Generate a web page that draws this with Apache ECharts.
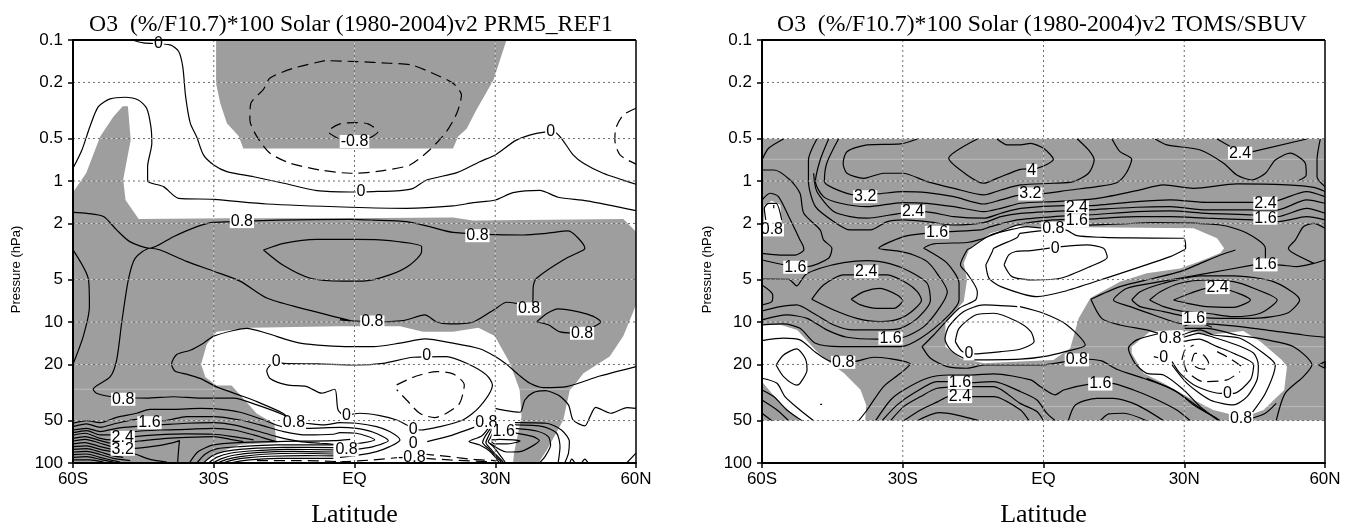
<!DOCTYPE html>
<html><head><meta charset="utf-8">
<script src="https://cdn.jsdelivr.net/npm/echarts@6/dist/echarts.min.js"></script>
<style>html,body{margin:0;padding:0;background:#fff}#c{width:1352px;height:525px}</style>
</head><body><div id="c"></div>
<script>
// All points are [latitude in degrees, log10(pressure in hPa)]
const pressureTicks = [0.1,0.2,0.5,1,2,5,10,20,50,100];
const latTicks = [-60,-30,0,30,60];
const latNames = {'-60':'60S','-30':'30S','0':'EQ','30':'30N','60':'60N'};
const titles = ['O3  (%/F10.7)*100 Solar (1980-2004)v2 PRM5_REF1','O3  (%/F10.7)*100 Solar (1980-2004)v2 TOMS/SBUV'];

const leftShade = [
 [[-29.5,-1],[-29.5,-.69],[-28.6,-.55],[-27.2,-.41],[-24.7,-.32],[-23.7,-.23],[21,-.23],[22.1,-.315],[23.9,-.37],[26,-.505],[29.6,-.715],[32.4,-1]],
 [[-60,.08],[-57.2,-.055],[-54.2,-.315],[-51.4,-.455],[-49.4,-.53],[-48.3,-.53],[-47.7,-.29],[-49.3,-.01],[-48.8,.135],[-46,.27],[-26.5,.265],[-3,.265],[21,.258],[25.2,.28],[57.3,.27],[60,.36],[60,.88],[57.3,1.1],[54.4,1.245],[48.8,1.364],[46.6,1.458],[45.9,1.48],[44.5,1.695],[41,1.907],[39.2,2],[33.8,2],[34,1.93],[35.6,1.67],[35.2,1.48],[33.1,1.29],[29.9,1.1],[26.4,1.04],[21,1.07],[14.6,1.07],[9.7,1.03],[-3.1,1.03],[-22.3,1.04],[-29.4,1.07],[-31.5,1.16],[-32.7,1.3],[-31.8,1.39],[-29.4,1.45],[-26.2,1.45],[-20.8,1.65],[-17.1,1.72],[-16.6,1.855],[-24.4,1.87],[-29.4,1.93],[-32.3,2],[-60,2]]
];
const leftDashed = [
 [[-6.3,-.854],[-13,-.8],[-18,-.73],[-19.4,-.65],[-22.1,-.55],[-22.3,-.433],[-20.8,-.315],[-18,-.197],[-13.7,-.126],[-7.3,-.078],[-.9,-.055],[.4,-.055],[6.1,-.074],[11.8,-.114],[16,-.22],[19.6,-.35],[21.8,-.48],[22.8,-.61],[21,-.693],[17.5,-.752],[12.2,-.823],[7.5,-.835],[.4,-.847],[-6.3,-.854]],
 [[-3.4,-.3],[-5.6,-.35],[-3.1,-.405],[.4,-.414],[2.9,-.405],[5,-.35],[3,-.3]],
 [[60,-.516],[57.3,-.468],[55.7,-.374],[55.5,-.29],[56.6,-.185],[60,-.12]],
 [[9,1.446],[13.2,1.383],[17.5,1.352],[21,1.368],[23.4,1.446],[22.4,1.577],[19.6,1.647],[17.1,1.678],[13.9,1.647],[11.1,1.553],[9,1.48]],
 [[-20.8,1.983],[-11.6,1.983],[-.9,1.993]],
 [[-3.1,1.993],[4,1.978],[9.7,1.96]],
 [[14.6,1.936],[20.3,1.955],[25.3,1.974],[30.3,1.983]],
 [[15,1.967],[20.3,1.978],[29.6,1.993]]
];
const leftSolid = [
 [[-47.5,-1],[-45,-.98],[-39.3,-.965],[-37.5,-.92],[-36.6,-.81],[-36,-.6],[-35,-.41],[-33.6,-.31],[-32.2,-.185],[-30,-.114],[-27.2,-.067],[-21.5,-.03],[-15.1,.016],[-8,.068],[-.9,.078],[4,.075],[9.7,.068],[12.5,.052],[15.4,-.007],[21.8,-.059],[26.7,-.137],[30,-.185],[34.5,-.29],[38.8,-.338],[42.4,-.35],[44.1,-.303],[46.6,-.185],[48.8,-.126],[53,-.055],[60,.023]],
 [[-60,-.09],[-58.1,-.22],[-56.4,-.385],[-54.6,-.527],[-52.1,-.582],[-48.9,-.594],[-46.1,-.575],[-44.3,-.516],[-43.4,-.386],[-43.2,-.267],[-44.1,-.102],[-44.1,0],[-40.7,.04],[-37.5,.123],[-30,.13],[-18.7,.163],[-.9,.186],[11.1,.194],[21,.177],[25.3,.154],[30,.135],[33.8,.083],[39.5,.066],[43.4,.115],[49.5,.141],[60,.21]],
 [[-60,.222],[-57,.229],[-53.5,.252],[-50.7,.347],[-47.9,.43],[-43.6,.477],[-38.6,.395],[-33.6,.324],[-30,.293],[-.9,.272],[4,.277],[11.1,.288],[16,.324],[21,.364],[36,.383],[40.9,.371],[45.6,.354],[47.7,.406],[49.1,.477],[48.8,.489],[44.5,.56],[38.8,.69],[38.1,.75],[38,.86],[37.2,.88],[32.4,.86],[30.3,.9],[25.3,1],[20.3,1.014],[17.5,1],[15,.95],[10.4,.99],[3.8,1],[-3.1,.985],[-.9,.99],[-11.6,.9],[-18.7,.83],[-24.4,.71],[-30,.64],[-35.8,.57],[-41.4,.489],[-43.6,.477],[-46.8,.55],[-48.2,.7],[-49.6,1],[-50.7,1.27],[-52.1,1.39],[-55.7,1.477],[-55,1.505],[-51.4,1.53],[-44.3,1.54],[-38.6,1.53],[-32.9,1.54],[-25.8,1.54],[-20.8,1.588],[-15.1,1.66],[-12.9,1.714]],
 [[-60,.489],[-56.7,.7],[-56.5,.89],[-57.8,1.1],[-60,1.3]],
 [[-19.4,.489],[-15.1,.6],[-9.4,.69],[-2.4,.71],[1.8,.71],[7.5,.666],[11.8,.595],[14.3,.5],[14.3,.465],[7.5,.423],[.4,.414],[-8,.414],[-15.1,.442],[-19.4,.489]],
 [[38.8,1],[41,.94],[43.4,.907],[48,.93],[50.9,.96],[52.5,1],[50,1.05],[48.5,1.08],[43.8,1.07],[41.3,1.02],[38.8,1]],
 [[60,1.316],[52.3,1.383],[45.2,1.458],[40.2,1.465],[37.4,1.435],[35,1.375],[32.4,1.3],[30,1.245],[26.7,1.19],[21,1.15],[15,1.12],[9.7,1.15],[4,1.175],[-.9,1.175],[-11.6,1.15],[-18.7,1.08],[-23,1.045],[-25.8,1.06],[-30,1.1],[-32.2,1.15],[-35,1.2],[-37.9,1.23],[-39,1.3],[-38.2,1.35],[-35.8,1.37],[-32.9,1.4],[-29.4,1.46],[-24.4,1.52],[-20.8,1.565],[-15.1,1.65],[-12.9,1.714],[-10.5,1.718],[-6.6,1.73],[-3.1,1.714],[.4,1.718],[4.7,1.742],[7.5,1.777],[9.7,1.836],[7.5,1.884],[4.7,1.919],[1.1,1.943],[-3.1,1.96]],
 [[-1.7,1.664],[-1.6,1.683],[-3.5,1.624],[-4.2,1.477],[-7,1.505],[-10.2,1.458],[-14.4,1.446],[-18,1.4],[-18.7,1.345],[-16.7,1.28],[-15.1,1.293],[-8,1.297],[.4,1.305],[6.1,1.293],[12.5,1.25],[19.6,1.245],[23.9,1.293],[28.1,1.375],[29.4,1.446],[26.7,1.6],[23.1,1.695],[18.2,1.742],[13.9,1.766],[9,1.695],[5.4,1.664],[1.1,1.647],[-1.7,1.664]],
 [[15.5,1.848],[20.3,1.808],[26.4,1.735]],
 [[-60,1.718],[-57.1,1.7],[-54.2,1.714],[-50.7,1.676],[-46.4,1.647],[-43.6,1.619],[-38.6,1.619],[-32.9,1.612],[-30,1.614],[-24.4,1.64],[-19.4,1.695],[-15.5,1.742],[-10.2,1.754],[-3.1,1.747],[.4,1.754],[4,1.782],[7.2,1.841],[4,1.884],[.4,1.903],[-3.1,1.919]],
 [[-60,1.742],[-57.1,1.723],[-54.2,1.747],[-50.7,1.718],[-46.4,1.69],[-40.7,1.7],[-35.8,1.671],[-30,1.671],[-24.4,1.695],[-20.1,1.73],[-15.1,1.777],[-10.2,1.801],[-4.5,1.796],[-3.1,1.785],[.4,1.789],[4.3,1.836],[1.1,1.86],[-1.7,1.872]],
 [[-60,1.766],[-57.1,1.754],[-54.2,1.777],[-50.7,1.754],[-47.1,1.742],[-41.4,1.73],[-35.8,1.718],[-30,1.714],[-25.8,1.73],[-21.5,1.766],[-16.6,1.813],[-11.6,1.848],[-7.3,1.86],[-4.5,1.867]],
 [[-60,1.785],[-57.1,1.77],[-54.2,1.801],[-51.4,1.801],[-47.1,1.777],[-41.4,1.766],[-35.8,1.761],[-30,1.754],[-25.8,1.766],[-21.5,1.801],[-18,1.836],[-16.6,1.848]],
 [[-60,1.803],[-57.4,1.789],[-54.2,1.825],[-51.7,1.836],[-46.8,1.813],[-42.2,1.801],[-35.8,1.794],[-30,1.796],[-25.8,1.813],[-21.5,1.836]],
 [[-60,1.825],[-57.4,1.813],[-54.2,1.841],[-51.7,1.86],[-46.8,1.848],[-45,1.841],[-40,1.825],[-35.8,1.818],[-30,1.813],[-26.5,1.832],[-23.7,1.848]],
 [[-60,1.844],[-57.4,1.832],[-54.2,1.86],[-51.7,1.884],[-46.8,1.896],[-42.2,1.879],[-38.6,1.855],[-37.3,1.841],[-37.5,1.907],[-37.7,2]],
 [[-60,1.865],[-57.4,1.855],[-54.2,1.884],[-51.7,1.903],[-46.8,1.936],[-44.3,1.967],[-42.2,1.983],[-40,1.993]],
 [[-60,1.884],[-57.1,1.879],[-54.2,1.903],[-51.7,1.919]],
 [[-60,1.903],[-57.1,1.898],[-54.2,1.922],[-51.4,1.95],[-49.3,1.96]],
 [[-60,1.922],[-57.1,1.917],[-54.2,1.94],[-51.4,1.967],[-47.8,1.983]],
 [[-60,1.94],[-57.1,1.936],[-54.2,1.96],[-51.4,1.983],[-50,1.993]],
 [[-60,1.96],[-57.1,1.955],[-54.2,1.974],[-51.4,1.993]],
 [[-60,1.978],[-56.4,1.978],[-53.5,1.993]],
 [[-35.2,2],[-33.3,1.919],[-30.1,1.872],[-24.4,1.855],[-16.6,1.848],[-4.5,1.841],[-.9,1.832]],
 [[-33.6,2],[-31.8,1.936],[-29.4,1.9],[-24.4,1.884],[-16.6,1.872],[-4.5,1.872]],
 [[-32.2,2],[-30.4,1.95],[-27.9,1.919],[-23,1.9],[-15.1,1.889],[-4.5,1.891]],
 [[-31.1,2],[-29.4,1.96],[-26.5,1.931],[-22.3,1.915],[-14.4,1.903],[-4.5,1.907]],
 [[-30.2,2],[-28.3,1.969],[-25.8,1.945],[-20.8,1.926],[-13,1.917],[-4.5,1.922]],
 [[-29.2,2],[-27.2,1.974],[-24.4,1.955],[-19.4,1.938],[-11.6,1.931],[-4.5,1.936]],
 [[-28.1,2],[-25.8,1.978],[-23,1.964],[-18,1.952],[-10.2,1.948],[-4.5,1.95]],
 [[-26.5,2],[-23.7,1.983],[-20.8,1.974],[-15.9,1.967],[-4.5,1.967]],
 [[28.5,1.754],[27.1,1.808],[24.4,1.848],[26.7,1.872],[28.9,1.919],[30.8,1.993]],
 [[29,1.754],[27.8,1.813],[27.3,1.855],[28.5,1.896],[31.3,1.993]],
 [[29.4,1.754],[28.5,1.813],[28,1.855],[29.2,1.907],[31.7,1.993]],
 [[29.7,1.766],[28.9,1.825],[28.5,1.848],[29.6,1.884],[32.1,1.993]],
 [[29.2,1.836],[30.9,1.832],[33.8,1.836],[35.3,1.844],[32.4,1.865],[29.9,1.865],[29.2,1.848]],
 [[33.8,1.785],[38.1,1.813],[39.4,1.841],[37.7,1.884],[35.3,1.919],[32.4,1.922],[28.9,1.86]],
 [[34.2,1.754],[38.8,1.773],[41.3,1.813],[41.8,1.872],[40.6,1.955],[39.4,2]],
 [[34.2,1.73],[40.2,1.742],[43.1,1.789],[43.8,1.884],[43.4,2]],
 [[34.2,1.714],[40.9,1.718],[44.1,1.766],[45.8,1.848],[45.6,1.931],[44.8,2]],
 [[30,1.612],[32.4,1.629],[35.3,1.64],[36.3,1.553],[38.1,1.501],[40.6,1.487],[43.4,1.518],[45.6,1.588],[46.6,1.695],[49.1,1.737],[50.2,1.671],[51.4,1.605],[54.6,1.647],[58.1,1.607],[60,1.612]],
 [[45.9,2],[46.3,1.973],[47,2]],[[48.4,2],[49.1,1.973],[49.8,2]],[[58,2],[60,1.93]]
];
const leftFaint = [[[-60,1.477],[-26.5,1.477]],[[35.3,1.477],[45.9,1.477]]];
const leftLabels = [
 [-41.8,-.975,'0'],[0,-.28,'-0.8'],[1.4,.075,'0'],[41.8,-.348,'0'],[-24,.288,'0.8'],[26.2,.388,'0.8'],[37.2,.907,'0.8'],[48.5,1.08,'0.8'],[3.8,1,'0.8'],[15.4,1.236,'0'],[-16.7,1.28,'0'],[-49.3,1.548,'0.8'],[-43.7,1.714,'1.6'],[-49.4,1.818,'2.4'],[-49.4,1.903,'3.2'],[-12.9,1.714,'0.8'],[-1.7,1.664,'0'],[-1.7,1.907,'0.8'],[12.5,1.766,'0'],[12.5,1.86,'0'],[12.2,1.96,'-0.8'],[28.1,1.711,'0.8'],[31.8,1.777,'1.6']
];

const rightShade = [[[-60,-.3],[60,-.3],[60,1.7],[-60,1.7]]];
const rightHoles = [
 [[-59.5,.17],[-57.9,.14],[-56.1,.17],[-55.8,.295],[-59.7,.32]],
 [[-60,1.014],[-56.1,1.02],[-52.5,1.056],[-48.3,1.21],[-45.4,1.293],[-42.5,1.364],[-39,1.48],[-37.8,1.588],[-38,1.7],[-51.9,1.7],[-56.1,1.577],[-60,1.423]],
 [[-15.6,.477],[-11.3,.37],[-5.6,.32],[-2.1,.324],[9.2,.328],[32,.335],[37,.406],[38.5,.477],[37.7,.51],[33.4,.57],[29.1,.62],[22,.655],[16.3,.714],[10,.83],[7.5,.974],[6.8,1.056],[5.7,1.186],[2.1,1.27],[-5,1.28],[-12.7,1.293],[-17.7,1.257],[-20.9,1.175],[-20.9,.997],[-17,.855],[-16.3,.7],[-17,.583],[-15.9,.489]],
 [[18.8,1.175],[22.7,1.068],[29.1,1.056],[35.5,1.09],[42.6,1.063],[46.2,1.139],[50.8,1.27],[51.9,1.316],[51.3,1.482],[46.9,1.624],[44,1.66],[40.5,1.66],[36.2,1.624],[30.6,1.529],[25.6,1.435],[21.3,1.364],[18.8,1.222]]
];
const rightDashed = [
 [[23.5,1.246],[24.9,1.257]],
 [[29.5,1.269],[30.2,1.198],[32,1.163]],
 [[29.9,1.281],[30.6,1.352],[34.1,1.423],[39.1,1.411],[41.9,1.352]],
 [[37,1.21],[39.1,1.246],[42.3,1.316]],
 [[31.6,1.281],[32.3,1.222],[34.1,1.234],[35.2,1.293],[34.1,1.335],[32.3,1.316],[31.6,1.281]]
];
const rightSolid = [
 [[-60,-.149],[-58.6,-.232],[-55.4,-.298]],
 [[-60,-.078],[-57.4,-.078],[-54,-.007],[-51.9,.087],[-51.1,.229],[-47.6,.347],[-46.9,.418],[-45.1,.477],[-45.8,.548],[-50.4,.607],[-55.1,.595],[-60,.56]],
 [[-60,.135],[-58.3,.087],[-56.5,.11],[-54.3,.252],[-51.9,.418],[-51.1,.477],[-51.1,.489],[-52.9,.525],[-56.1,.525],[-60,.513]],
 [[-59.2,.276],[-59.5,.194],[-58.6,.158],[-57,.158],[-55.8,.276]],
 [[-57.5,.17],[-57.5,.194]],
 [[-26.9,-.298],[-30.5,-.263],[-37.6,-.256],[-41.9,-.208],[-42.7,-.126],[-41.9,-.055],[-38.3,-.019],[-34.1,-.055],[-30,-.055],[-24.8,.004],[-19.1,.052],[-12.7,.099],[-9.1,.064],[-4.9,.028],[2.1,.016],[6.4,.004],[9.6,-.055],[10.8,-.149],[9.6,-.22],[7.2,-.298]],
 [[-14.1,-.298],[-20.2,-.161],[-16.3,-.043],[-12.7,.016],[-9.9,-.019],[-4.9,-.083],[-1.4,-.09],[2.1,-.154],[0,-.232],[-2.8,-.267],[-4.9,-.256],[-7.7,-.256],[-9.9,-.298]],
 [[-43.7,-.298],[-46.2,-.126],[-46.7,.004],[-44.7,.052],[-40.1,.099],[-35.5,.092],[-30,.075],[-24.8,.082],[-19.1,.111],[-12.7,.163],[-9.1,.134],[-4.9,.099],[-.7,.092],[5.7,.064],[11.4,.04],[15.6,.012],[17.6,-.055],[18.8,-.154],[16.3,-.208],[14.6,-.298]],
 [[-45.8,-.298],[-47.6,-.149],[-48.6,.004],[-46.9,.111],[-43.3,.158],[-37.6,.182],[-30,.153],[-24.8,.158],[-19.1,.182],[-12.7,.217],[-9.1,.194],[-4.9,.158],[2.1,.146],[10.7,.127],[19.9,.068],[25.6,.028],[32,.052],[41.2,.021],[51.9,.028],[57.6,.045],[60,.075]],
 [[-49,-.055],[-48.3,.075],[-44.7,.217],[-41.2,.253],[-37.6,.264],[-30.5,.229],[-25.5,.217],[-19.1,.253],[-12.7,.264],[-9.1,.229],[-4.9,.194],[4.6,.175],[9.6,.175],[19.9,.146],[27,.134],[34.8,.151],[44.8,.151],[49.8,.139],[56.1,.075],[60,.111]],
 [[-48.3,-.298],[-50.1,-.149],[-50.1,.004],[-48.6,.182],[-44.7,.288],[-41.2,.347],[-36.9,.347],[-33.3,.288],[-30,.276],[-24.8,.288],[-19.1,.312],[-12.7,.295],[-9.1,.253],[-4.9,.229],[9.6,.205],[19.9,.186],[27,.182],[34.8,.205],[44.8,.205],[49.8,.205],[56.1,.134],[60,.158]],
 [[-60,.985],[-54.7,.95],[-50.4,.974],[-46.2,1.056],[-41.9,1.108],[-35.5,1.122],[-29.8,1.108],[-25.5,1.033],[-22,.891],[-20.5,.785],[-22.7,.655],[-24.8,.572],[-27.7,.525],[-31.2,.496],[-35.1,.477],[-29.8,.394],[-25.2,.371],[-20.2,.359],[-13.4,.347],[-11.3,.324],[-5.6,.276],[2.1,.253],[9.6,.241],[19.9,.217],[27,.212],[34.8,.229],[44.8,.241],[49.8,.253],[56.1,.194],[60,.229]],
 [[-60,1.021],[-55.4,1.014],[-51.9,1.045],[-48.6,1.151],[-43.3,1.175],[-30.5,1.175],[-26.2,1.115],[-20.5,.962],[-18,.844],[-18,.725],[-20.5,.584],[-24.8,.489],[-25.5,.477],[-23.4,.446],[-16.3,.436],[-13.8,.418],[-10.9,.383],[-5.6,.312],[2.1,.276],[9.6,.27],[19.9,.253],[27,.253],[34.8,.264],[44.8,.276],[50.1,.288],[56.1,.253],[60,.276]],
 [[-60,.695],[-54.3,.697],[-52.6,.744],[-50.8,.666],[-47.6,.619],[-42.6,.579],[-37.6,.565],[-32.6,.588],[-28.4,.643],[-24.8,.725],[-24.1,.844],[-26.9,.974],[-30.5,1.045],[-35.1,1.056],[-40.5,1.056],[-44.7,1.021],[-49,.938],[-52.6,.879],[-56.1,.891],[-60,.922]],
 [[-49.4,.839],[-46.9,.737],[-42.6,.666],[-33.3,.666],[-29.1,.725],[-26.9,.785],[-26,.844],[-27.7,.915],[-30.5,.974],[-34.8,.997],[-39.8,.974],[-44.7,.915],[-49.4,.839]],
 [[-41,.839],[-38.3,.785],[-34.8,.761],[-31.2,.808],[-30,.848],[-31.9,.903],[-35.5,.903],[-39,.879],[-41,.839]],
 [[-60,1.132],[-55.4,1.115],[-51.9,1.127],[-48.3,1.222],[-45.1,1.281],[-40.5,1.281],[-36.2,1.25],[-33.3,1.257],[-28.4,1.298],[-30.5,1.364],[-34.1,1.458],[-37.6,1.624],[-39.4,1.7]],
 [[-60,1.399],[-56.8,1.435],[-55.1,1.529],[-51.9,1.624],[-49,1.7]],
 [[-60,1.482],[-57.5,1.529],[-54.7,1.624],[-51.5,1.7]],
 [[-60,1.553],[-56.8,1.624],[-54.3,1.7]],
 [[-60,1.647],[-57.9,1.7]],
 [[-57,1.305],[-55.4,1.234],[-52.6,1.191],[-50.8,1.257],[-50.4,1.34],[-51.9,1.435],[-52.6,1.447],[-55.4,1.387],[-57,1.305]],
 [[-60,.737],[-57.7,.808],[-57.9,.855],[-60,.879]],
 [[-47.6,1.584],[-47.2,1.584]],
 [[-35.8,1.7],[-32.6,1.553],[-29.8,1.482],[-24.8,1.399],[-20.2,1.376],[-15.6,1.376],[-10.6,1.368],[-2.7,1.411],[-.7,1.458],[2.5,1.517],[4.3,1.482],[9.8,1.44],[14.4,1.435],[19.2,1.482],[23.5,1.541],[28.4,1.624],[31.3,1.7]],
 [[-34.4,1.7],[-31.2,1.588],[-27.7,1.506],[-22.7,1.423],[-20.2,1.423],[-15.6,1.43],[-10.6,1.423],[-4.9,1.494],[-1.4,1.553],[.7,1.647],[2.5,1.7]],
 [[-32.6,1.7],[-29.8,1.6],[-26.2,1.529],[-22.7,1.47],[-15.6,1.458],[-10.6,1.458],[-5,1.577],[-1.4,1.635],[0,1.7]],
 [[-29.8,1.7],[-26.2,1.624],[-22.5,1.565],[-20.2,1.529],[-15.6,1.529],[-10.6,1.529],[-4.9,1.624],[-3.1,1.7]],
 [[-26.9,1.7],[-22.3,1.643],[-18.4,1.66],[-13.8,1.7]],
 [[5.3,1.7],[6.8,1.588],[11.4,1.541],[14.9,1.541],[19.9,1.588],[25.6,1.7]],
 [[12.1,1.7],[13.9,1.652],[17.1,1.647],[22,1.7]],
 [[-25.9,1.175],[-24.1,1.257],[-20.5,1.316],[-16.3,1.328],[-12.7,1.305],[-2.7,1.305],[-.7,1.305],[4.6,1.281]],
 [[-25.9,1.175],[-23.4,1.092],[-18,.903],[-14.5,.844],[-14.1,.785],[-16.3,.655],[-17.7,.595],[-16.3,.489],[-15.6,.477],[-11.3,.383],[-5.6,.335],[-3.6,.324],[0,.335],[4.6,.319],[16.3,.305],[23.5,.295],[37.7,.312],[43.4,.371],[47.3,.477],[47.3,.595],[49.8,.595],[54,.607],[57.6,.584],[60,.56]],
 [[-8.4,.595],[-7.4,.524],[-5.9,.5],[-2.7,.494],[3.9,.465],[9.2,.453],[12.8,.477],[13.6,.541],[9.9,.607],[3.6,.69],[-2.1,.702],[-6.7,.678],[-8.4,.595]],
 [[-12.3,.595],[-10.9,.5],[-10.6,.477],[-5.6,.4],[-5,.371],[4.6,.347],[7.1,.388],[12.8,.4],[18.5,.404],[29.9,.406],[30.3,.477],[29.9,.489],[27,.536],[12.1,.702],[4.3,.784],[-1.4,.82],[-9.1,.749],[-11.6,.69],[-12.3,.595]],
 [[-5,.891],[0,.938],[5,1.021],[8.9,1.163],[4.6,1.21],[0,1.246],[-5,1.264],[-14.8,1.269],[-17,1.257],[-19.8,1.198],[-21,1.122],[-20.2,1.033],[-17,.926],[-12.7,.879],[-5.6,.891]],
 [[-18.8,1.139],[-18,1.045],[-14.5,.95],[-10.6,.938],[-5.6,.997],[-2.7,1.068],[-2,1.139],[-5,1.193],[-9.1,1.21],[-14.8,1.226],[-17.3,1.21],[-18.8,1.139]],
 [[9.6,1.264],[12.4,1.276],[15.6,1.335],[21.3,1.399],[26.3,1.458],[29.9,1.529],[33.4,1.612],[37.7,1.7]],
 [[10.1,.839],[16.3,.749],[23.5,.69],[29.1,.643],[32.7,.595],[37.7,.525],[40.9,.489]],
 [[10.1,.839],[12.4,.974],[16.3,1.021],[22,1.056],[24.5,1.08]],
 [[60,1.108],[55.4,1.092],[44.8,1.045],[34.5,1.014],[29.9,1.014],[23.5,.95],[18.5,.891],[14.9,.844],[17.8,.761],[24.9,.714],[34.8,.655],[44.8,.595]],
 [[18.8,.844],[20.6,.785],[25.6,.725],[33.4,.673],[40.5,.673],[49,.714],[54.6,.844],[51.9,.938],[44.8,.974],[37.7,.974],[29.9,.957],[25.6,.926],[20.6,.891],[18.8,.844]],
 [[22.6,.844],[24.9,.785],[29.1,.725],[34.8,.702],[40.5,.714],[44.8,.761],[49.8,.844],[46.2,.938],[40.5,.962],[34.8,.938],[29.9,.926],[25.6,.891],[22.6,.844]],
 [[27.7,.844],[31.3,.796],[34.8,.761],[39.5,.773],[44.1,.844],[40.5,.896],[34.8,.891],[30.6,.867],[27.7,.844]],
 [[29.9,1.045],[34.8,1.045],[41.2,1.092],[47.6,1.127],[53.3,1.175],[57.2,1.305],[55.4,1.387],[51.5,1.506],[49.6,1.7]],
 [[24.9,1.08],[19.9,1.127],[18.1,1.186],[19.5,1.293],[22,1.364],[25.6,1.376],[29.9,1.482],[33.4,1.6],[37.3,1.7]],
 [[22,1.4],[28.4,1.494],[32,1.589],[36.9,1.683]],
 [[44.4,1.683],[47.3,1.647],[49.6,1.577]],
 [[29.5,1.092],[33.4,1.056],[36.2,1.092],[41.9,1.115],[46.9,1.222],[49.4,1.305],[47.3,1.506],[44.4,1.647]],
 [[29.9,1.028],[32.7,1.004],[35.9,1.037]],
 [[29.9,1.108],[33.1,1.08],[36.2,1.108],[41.2,1.163],[44.8,1.222],[45.8,1.305],[45.5,1.411],[43.4,1.529],[40.5,1.588],[35.5,1.553],[30.6,1.435],[27.4,1.305]],
 [[29.9,1.139],[33.1,1.122],[37,1.175],[40.5,1.222],[44.8,1.305],[44.1,1.411],[40.5,1.506],[37.7,1.506],[32.7,1.458],[29.1,1.364],[27.4,1.281]],
 [[23.8,-.298],[26.3,-.256],[33.4,-.22],[38.4,-.126],[41.2,-.043],[44.4,-.007],[47.3,-.055],[49.4,-.149],[52.6,-.197],[55.8,-.126],[56,-.043],[54.4,-.003]],
 [[37,-.298],[39.8,-.244]],
 [[44.6,-.208],[56.1,-.298]],
 [[59,-.298],[58.3,-.149],[58.3,-.031],[60,.04]],
 [[60,.335],[57.6,.3],[55.4,.324],[53.7,.418],[52.2,.477],[53.3,.513],[57.6,.584]],
 [[58.6,1.305],[60,1.281],[60,1.328],[58.6,1.305]]
];
const rightFaint = [[[-60,-.154],[60,-.154]],[[-25,1.175],[60,1.175]],[[-40,1.6],[60,1.6]]];
const rightLabels = [
 [-57.9,.347,'0.8'],[-38,.111,'3.2'],[-27.8,.217,'2.4'],[-22.7,.364,'1.6'],[-52.9,.612,'1.6'],[-37.8,.643,'2.4'],[-32.6,1.115,'1.6'],[-42.7,1.286,'0.8'],[-17.8,1.43,'1.6'],[-17.8,1.529,'2.4'],[-15.9,1.226,'0'],[-2.5,-.074,'4'],[-2.8,.092,'3.2'],[7.1,.186,'2.4'],[7.1,.281,'1.6'],[2.1,.335,'0.8'],[2.5,.477,'0'],[41.9,-.197,'2.4'],[47.3,.158,'2.4'],[47.3,.264,'1.6'],[47.3,.595,'1.6'],[37.1,.756,'2.4'],[32.1,.974,'1.6'],[27,1.115,'0.8'],[25.6,1.25,'0'],[7.1,1.269,'0.8'],[12.1,1.44,'1.6'],[39.2,1.51,'0'],[42.1,1.683,'0.8']
];

const logTicks = pressureTicks.map(p => Math.log10(p));
const SANS = '"Liberation Sans", Arial, sans-serif', SERIF = '"Liberation Serif", "Times New Roman", serif';
const GRAY = '#9e9e9e';

function polySeries(rings, color, i, z) {
  return { type:'custom', xAxisIndex:i, yAxisIndex:i, z, silent:true, animation:false, clip:true,
    data: rings.map((r, k) => [k]),
    renderItem(params, api) {
      const ring = rings[api.value(0)];
      return { type:'polygon', shape:{points: ring.map(pt => api.coord(pt))}, style:{fill:color} };
    } };
}
function lineSeries(pts, i, style, z, clip) {
  return { type:'line', xAxisIndex:i, yAxisIndex:i, data:pts, showSymbol:false, symbol:'none', silent:true,
    animation:false, z, clip: clip !== false, lineStyle:style.ls, smooth: style.smooth || false };
}
function gridSeries(i) {
  const out = [];
  const segs = [];
  pressureTicks.slice(1,-1).forEach((p,k) => segs.push([[-60,logTicks[k+1]],[60,logTicks[k+1]]]));
  [-30,0,30].forEach(l => segs.push([[l,-1],[l,2]]));
  segs.forEach(s => {
    out.push(lineSeries(s,i,{ls:{color:'#6f6f6f',width:1,type:[2,3]}},6));
    out.push(lineSeries(s,i,{ls:{color:'rgba(255,255,255,.55)',width:1,type:[2,3],dashOffset:2.5}},6));
  });
  return out;
}
function panel(i, shades, holes, solid, dashed, faint, labels) {
  let s = [];
  shades.length && s.push(polySeries(shades, GRAY, i, 1));
  holes.length && s.push(polySeries(holes, '#fff', i, 1));
  faint.forEach(f => s.push(lineSeries(f,i,{ls:{color:'rgba(255,255,255,.3)',width:1}},2)));
  s = s.concat(gridSeries(i));
  solid.forEach(c => s.push(lineSeries(c,i,{smooth:.25,ls:{color:'#000',width:1.2}},4)));
  dashed.forEach(c => s.push(lineSeries(c,i,{smooth:.25,ls:{color:'#000',width:1.2,type:[11,6]}},4)));
  s.push(lineSeries([[-60,-1],[60,-1]],i,{ls:{color:'#000',width:2}},9,false));
  s.push(lineSeries([[60,-1],[60,2]],i,{ls:{color:'#000',width:1.5}},9,false));
  s.push({ type:'scatter', xAxisIndex:i, yAxisIndex:i, z:8, silent:true, animation:false, symbolSize:0,
    itemStyle:{opacity:1}, data: labels,
    label:{ show:true, position:'inside', formatter:p => p.value[2], color:'#000', fontFamily:SANS, fontSize:16,
      backgroundColor:'#fff', padding:[0,1,0,1], lineHeight:13, opacity:1 } });
  return s;
}
const gridL = {left:73, top:40, width:563, height:423, outerBoundsMode:'none'};
const gridR = {left:762, top:40, width:563, height:423, outerBoundsMode:'none'};
function xAxis(i){ return { type:'value', gridIndex:i, min:-60, max:60, interval:30, z:10,
  name:'Latitude', nameLocation:'middle', nameGap:39, nameTextStyle:{fontFamily:SERIF,fontSize:26,color:'#000'},
  axisLine:{show:true,onZero:false,lineStyle:{color:'#000',width:2}}, axisTick:{show:true,length:5,lineStyle:{color:'#000',width:1.5}},
  axisLabel:{formatter:v=>latNames[v], fontFamily:SANS,fontSize:17,color:'#000',margin:8,hideOverlap:false,showMinLabel:true,showMaxLabel:true},
  splitLine:{show:false} }; }
function yAxis(i){ return { type:'value', gridIndex:i, inverse:true, min:-1, max:2, z:10,
  name:'Pressure (hPa)', nameLocation:'middle', nameRotate:90, nameGap:i?48:50,
  nameTextStyle:{fontFamily:SANS,fontSize:13,color:'#000',padding:[0,36,0,0]},
  axisLine:{show:true,onZero:false,lineStyle:{color:'#000',width:2}},
  axisTick:{show:true,length:5,customValues:logTicks,lineStyle:{color:'#000',width:1.5}},
  axisLabel:{customValues:logTicks,formatter:v=>String(+Math.pow(10,v).toPrecision(1)),fontFamily:SANS,fontSize:17,color:'#000',margin:10,hideOverlap:false},
  splitLine:{show:false} }; }

const chart = echarts.init(document.getElementById('c'), null, {renderer:'canvas'});
chart.setOption({
  backgroundColor:'#fff', animation:false,
  title: titles.map((t,i)=>({ text:t, left:i?1037:346, top:8, textAlign:'center',
    textStyle:{fontFamily:SERIF,fontSize:23.7,fontWeight:'normal',color:'#000'} })),
  grid:[gridL,gridR], xAxis:[xAxis(0),xAxis(1)], yAxis:[yAxis(0),yAxis(1)],
  series: panel(0,leftShade,[],leftSolid,leftDashed,leftFaint,leftLabels)
    .concat(panel(1,rightShade,rightHoles,rightSolid,rightDashed,rightFaint,rightLabels))
});
</script></body></html>
